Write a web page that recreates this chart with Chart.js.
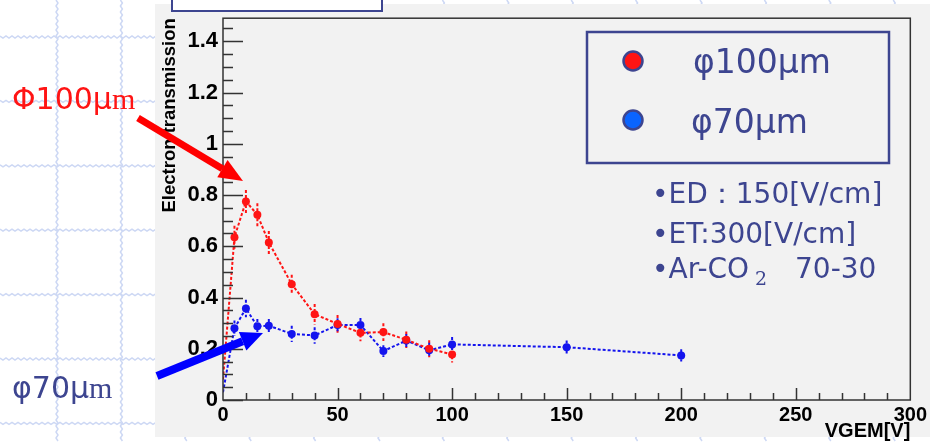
<!DOCTYPE html>
<html>
<head>
<meta charset="utf-8">
<script src="https://cdn.jsdelivr.net/npm/chart.js@4.4.1/dist/chart.umd.min.js"></script>
<style>
  html, body { margin: 0; padding: 0; background: #fff; }
  canvas { display: block; }
</style>
</head>
<body>
<canvas id="chart" width="930" height="442"></canvas>
<script>
// GEM hole diameter 100um
const voltage100 = [0, 5, 10, 15, 20, 30, 40, 50, 60, 70, 80, 90, 100];
const trans100 = [0.08, 0.635, 0.775, 0.723, 0.615, 0.452, 0.335, 0.297, 0.262, 0.265, 0.235, 0.2, 0.178];
const err100 = [0, 0.045, 0.045, 0.045, 0.045, 0.037, 0.04, 0.035, 0.033, 0.035, 0.032, 0.033, 0.032];

// GEM hole diameter 70um
const voltage70 = [0, 5, 10, 15, 20, 30, 40, 50, 60, 70, 80, 90, 100, 150, 200];
const trans70 = [0.03, 0.28, 0.357, 0.288, 0.29, 0.258, 0.252, 0.293, 0.293, 0.191, 0.232, 0.194, 0.217, 0.206, 0.174];
const err70 = [0, 0.03, 0.034, 0.028, 0.026, 0.032, 0.032, 0.026, 0.027, 0.023, 0.026, 0.029, 0.029, 0.026, 0.024];

const seriesNames = ["φ100μm", "φ70μm"];
const conditions = ["•ED：150[V/cm]", "•ET:300[V/cm]", "•Ar-CO"];

const RED = "#ff1414";
const BLUE = "#1414ee";
const INK = "#3d4590";

function toPoints(xs, ys) {
  return xs.map((x, i) => ({ x, y: ys[i] }));
}

const pageBackground = {
  id: "pageBackground",
  beforeDraw(chart) {
    const { ctx, width, height } = chart;
    ctx.save();
    ctx.fillStyle = "#fff";
    ctx.fillRect(0, 0, width, height);

    // wavy slide grid
    ctx.strokeStyle = "#cdd8f4";
    ctx.lineWidth = 1.5;
    const step = 64.4;
    for (let gy = 37; gy < height; gy += step) {
      ctx.beginPath();
      for (let x = 0; x <= width; x += 3) {
        const y = gy + ((x / 3) % 2 ? 1 : -1);
        x === 0 ? ctx.moveTo(x, y) : ctx.lineTo(x, y);
      }
      ctx.stroke();
    }
    for (let gx = 57; gx < width; gx += step) {
      ctx.beginPath();
      for (let y = 0; y <= height; y += 3) {
        const x = gx + ((y / 3) % 2 ? 1 : -1);
        y === 0 ? ctx.moveTo(x, y) : ctx.lineTo(x, y);
      }
      ctx.stroke();
    }

    // canvas pad
    ctx.fillStyle = "#f2f2f2";
    ctx.fillRect(155, 4, width - 155, 433);

    // bottom edge of the title box above
    ctx.fillStyle = "#fff";
    ctx.fillRect(172, -3, 210, 14);
    ctx.strokeStyle = INK;
    ctx.lineWidth = 2;
    ctx.strokeRect(172, -3, 210, 14);
    ctx.restore();
  },
};

const errorBars = {
  id: "errorBars",
  beforeDatasetsDraw(chart) {
    const { ctx, scales } = chart;
    const sets = [
      [voltage100, trans100, err100, RED],
      [voltage70, trans70, err70, BLUE],
    ];
    ctx.save();
    ctx.lineWidth = 2;
    ctx.setLineDash([3, 2]);
    sets.forEach(([xs, ys, es, color]) => {
      ctx.strokeStyle = color;
      xs.forEach((x, i) => {
        if (!es[i]) return;
        const px = scales.x.getPixelForValue(x);
        ctx.beginPath();
        ctx.moveTo(px, scales.y.getPixelForValue(ys[i] + es[i]));
        ctx.lineTo(px, scales.y.getPixelForValue(ys[i] - es[i]));
        ctx.stroke();
      });
    });
    ctx.restore();
  },
};

const frameTicks = {
  id: "frameTicks",
  afterDatasetsDraw(chart) {
    const { ctx, chartArea: a, scales } = chart;
    ctx.save();
    ctx.strokeStyle = "#333";
    ctx.lineWidth = 1.5;
    ctx.strokeRect(a.left, a.top, a.right - a.left, a.bottom - a.top);

    ctx.beginPath();
    for (let i = 0; i * 0.05 <= scales.y.max; i++) {
      const py = Math.round(scales.y.getPixelForValue(i * 0.05)) + 0.5;
      const len = i % 4 === 0 ? 20 : 10;
      ctx.moveTo(a.left, py);
      ctx.lineTo(a.left + len, py);
    }
    for (let v = 10; v < scales.x.max; v += 10) {
      const px = Math.round(scales.x.getPixelForValue(v)) + 0.5;
      const len = v % 50 === 0 ? 12 : 7;
      ctx.moveTo(px, a.bottom);
      ctx.lineTo(px, a.bottom - len);
    }
    ctx.stroke();
    ctx.restore();
  },
};

function drawArrow(ctx, x1, y1, x2, y2, color, w, headLen, headW) {
  const ang = Math.atan2(y2 - y1, x2 - x1);
  const bx = x2 - headLen * Math.cos(ang);
  const by = y2 - headLen * Math.sin(ang);
  ctx.strokeStyle = color;
  ctx.fillStyle = color;
  ctx.lineWidth = w;
  ctx.beginPath();
  ctx.moveTo(x1, y1);
  ctx.lineTo(bx, by);
  ctx.stroke();
  const nx = -Math.sin(ang) * headW / 2;
  const ny = Math.cos(ang) * headW / 2;
  ctx.beginPath();
  ctx.moveTo(x2, y2);
  ctx.lineTo(bx + nx, by + ny);
  ctx.lineTo(bx - nx, by - ny);
  ctx.closePath();
  ctx.fill();
}

const slideNotes = {
  id: "slideNotes",
  afterDraw(chart) {
    const { ctx } = chart;
    ctx.save();

    // legend box
    ctx.strokeStyle = INK;
    ctx.lineWidth = 2.5;
    ctx.strokeRect(587, 32, 302, 131);
    [[RED, 61], ["#0a64ff", 120]].forEach(([fill, cy]) => {
      ctx.beginPath();
      ctx.arc(633, cy, 9.5, 0, Math.PI * 2);
      ctx.fillStyle = fill;
      ctx.fill();
      ctx.lineWidth = 2.5;
      ctx.strokeStyle = INK;
      ctx.stroke();
    });
    ctx.fillStyle = INK;
    ctx.font = '33px "DejaVu Sans"';
    ctx.textBaseline = "alphabetic";
    ctx.fillText(seriesNames[0], 693, 73);
    ctx.fillText(seriesNames[1], 691, 133);

    // run conditions
    ctx.font = '28px "DejaVu Sans"';
    ctx.fillText(conditions[0], 652, 203);
    ctx.fillText(conditions[1], 652, 243);
    ctx.fillText(conditions[2], 652, 278);
    const coEnd = 652 + ctx.measureText(conditions[2]).width;
    ctx.fillText("70-30", 795, 278);
    ctx.font = '19px "DejaVu Serif"';
    ctx.fillText("2", coEnd + 6, 285);

    // side labels
    ctx.font = '30px "DejaVu Sans"';
    ctx.fillStyle = RED;
    ctx.fillText("Φ100μ", 12, 109);
    let w = ctx.measureText("Φ100μ").width;
    ctx.font = '30px "Liberation Serif"';
    ctx.fillText("m", 12 + w, 109);

    ctx.font = '30px "DejaVu Sans"';
    ctx.fillStyle = INK;
    ctx.fillText("φ70μ", 12, 398);
    w = ctx.measureText("φ70μ").width;
    ctx.font = '30px "Liberation Serif"';
    ctx.fillText("m", 12 + w, 398);

    drawArrow(ctx, 138, 118, 243, 181, "#ff0000", 7, 24, 20);
    drawArrow(ctx, 157, 376, 263, 333, "#0000ff", 8, 22, 20);
    ctx.restore();
  },
};

const tickFormat = (v) => String(Number(v.toFixed(2)));

new Chart(document.getElementById("chart"), {
  type: "scatter",
  data: {
    datasets: [
      {
        label: seriesNames[0],
        data: toPoints(voltage100, trans100),
        showLine: true,
        borderColor: RED,
        backgroundColor: RED,
        borderWidth: 2,
        borderDash: [3, 2],
        pointRadius: (c) => (c.raw && c.raw.x === 0 ? 0 : 4),
        pointBorderWidth: 0,
      },
      {
        label: seriesNames[1],
        data: toPoints(voltage70, trans70),
        showLine: true,
        borderColor: BLUE,
        backgroundColor: BLUE,
        borderWidth: 2,
        borderDash: [3, 2],
        pointRadius: (c) => (c.raw && c.raw.x === 0 ? 0 : 4),
        pointBorderWidth: 0,
      },
    ],
  },
  options: {
    responsive: false,
    animation: false,
    layout: { padding: { left: 155, top: 13, right: 17, bottom: 0 } },
    plugins: {
      legend: { display: false },
      tooltip: { enabled: false },
    },
    scales: {
      x: {
        type: "linear",
        min: 0,
        max: 300,
        afterFit: (scale) => { scale.height = 42; },
        grid: { display: false, drawTicks: false },
        border: { display: false },
        ticks: {
          stepSize: 50,
          padding: 3,
          color: "#000",
          callback: tickFormat,
          font: { family: "Liberation Sans", weight: "bold", size: 20 },
        },
        title: {
          display: true,
          text: "VGEM[V]",
          align: "end",
          color: "#000",
          padding: { top: 0, bottom: 0 },
          font: { family: "Liberation Sans", weight: "bold", size: 20, lineHeight: 1.1 },
        },
      },
      y: {
        min: 0,
        max: 1.49,
        afterFit: (scale) => { scale.width = 68; },
        grid: { display: false, drawTicks: false },
        border: { display: false },
        ticks: {
          stepSize: 0.2,
          includeBounds: false,
          padding: 5,
          color: "#000",
          callback: tickFormat,
          font: { family: "Liberation Sans", weight: "bold", size: 22 },
        },
        title: {
          display: true,
          text: "Electron transmission",
          align: "end",
          color: "#000",
          padding: { top: 4, bottom: 0 },
          font: { family: "Liberation Sans", weight: "bold", size: 18.5 },
        },
      },
    },
  },
  plugins: [pageBackground, errorBars, frameTicks, slideNotes],
});
</script>
</body>
</html>
